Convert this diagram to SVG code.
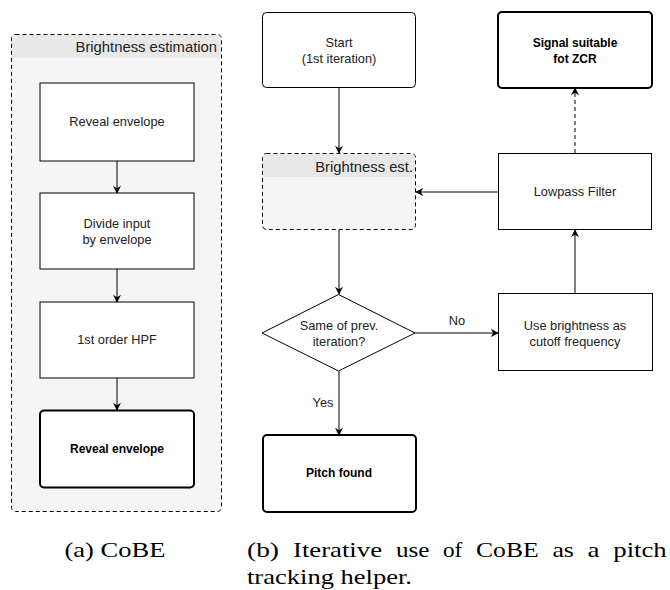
<svg xmlns="http://www.w3.org/2000/svg" width="670" height="590" viewBox="0 0 670 590">
<style>
.t{font-family:"Liberation Sans",Arial,sans-serif;font-size:12.8px;fill:#222;text-anchor:middle}
.b{font-weight:bold;font-size:12px;fill:#000}
.h{font-family:"Liberation Sans",Arial,sans-serif;font-size:14.8px;fill:#222;text-anchor:end}
.box{fill:#fff;stroke:#000;stroke-width:1}
.bold{fill:#fff;stroke:#000;stroke-width:2}
.cont{fill:#f5f5f5;stroke:#000;stroke-width:1;stroke-dasharray:4 3}
.hdr{fill:#e8e8e8}
.c{stroke:#000;stroke-width:1;fill:none}
.cap{font-family:"Liberation Serif","Times New Roman",serif;font-size:21.5px;fill:#000}
</style>
<defs>
<marker id="a" viewBox="0 0 10 10" refX="9" refY="5" markerWidth="8" markerHeight="8" markerUnits="userSpaceOnUse" orient="auto">
<path d="M0,0 L10,5 L0,10 L3,5 Z" fill="#000"/>
</marker>
</defs>

<g id="cobe">
<rect class="cont" x="11.5" y="34.5" width="210" height="477" rx="4"/>
<path class="hdr" d="M12,58 V38.5 Q12,35 16,35 H217 Q221,35 221,38.5 V58 Z"/>
<text class="h" x="217" y="52">Brightness estimation</text>
</g>
<g id="reveal1">
<rect class="box" x="40" y="83" width="154" height="78"/>
<text class="t" x="117" y="126">Reveal envelope</text>
</g>
<g id="divide">
<rect class="box" x="40" y="193" width="154" height="76"/>
<text class="t" x="117" y="228">Divide input</text>
<text class="t" x="117" y="244">by envelope</text>
</g>
<g id="hpf">
<rect class="box" x="40" y="302" width="154" height="76"/>
<text class="t" x="117" y="344">1st order HPF</text>
</g>
<g id="reveal2">
<rect class="bold" x="40" y="410.5" width="154" height="77" rx="4"/>
<text class="t b" x="117" y="453">Reveal envelope</text>
</g>

<g id="start">
<rect class="box" x="262.5" y="12.5" width="153" height="75" rx="4" stroke="#333"/>
<text class="t" x="339" y="47">Start</text>
<text class="t" x="339" y="63">(1st iteration)</text>
</g>
<g id="best">
<rect class="cont" x="262.5" y="153.5" width="153" height="76" rx="4" stroke="#333"/>
<path class="hdr" d="M263,177 V157.5 Q263,154 267,154 H411 Q415,154 415,157.5 V177 Z"/>
<text class="h" x="413" y="172">Brightness est.</text>
</g>
<g id="same">
<polygon class="box" points="338.5,294.5 415,333 338.5,371 262,333"/>
<text class="t" x="339" y="330">Same of prev.</text>
<text class="t" x="339" y="346">iteration?</text>
</g>
<g id="pitch">
<rect class="bold" x="263" y="435" width="153" height="77" rx="4"/>
<text class="t b" x="339" y="477">Pitch found</text>
</g>
<g id="signal">
<rect class="bold" x="498" y="12" width="154" height="76" rx="4"/>
<text class="t b" x="575" y="47">Signal suitable</text>
<text class="t b" x="575" y="63">fot ZCR</text>
</g>
<g id="lowpass">
<rect class="box" x="498.5" y="153.5" width="153" height="76"/>
<text class="t" x="575" y="196">Lowpass Filter</text>
</g>
<g id="usebright">
<rect class="box" x="498.5" y="293.5" width="154" height="77"/>
<text class="t" x="575" y="330">Use brightness as</text>
<text class="t" x="575" y="346">cutoff frequency</text>
</g>

<g id="connectors">
<line class="c" x1="117" y1="161" x2="117" y2="193" marker-end="url(#a)"/>
<line class="c" x1="117" y1="269" x2="117" y2="302" marker-end="url(#a)"/>
<line class="c" x1="117" y1="378" x2="117" y2="410" marker-end="url(#a)"/>
<line class="c" x1="339" y1="88" x2="339" y2="153" marker-end="url(#a)"/>
<line class="c" x1="339" y1="230" x2="339" y2="294" marker-end="url(#a)"/>
<line class="c" x1="415" y1="333" x2="498" y2="333" marker-end="url(#a)"/>
<line class="c" x1="339" y1="371" x2="339" y2="435" marker-end="url(#a)"/>
<line class="c" x1="575" y1="293" x2="575" y2="230" marker-end="url(#a)"/>
<line class="c" x1="498" y1="192" x2="416" y2="192" marker-end="url(#a)"/>
<line class="c" x1="575" y1="153" x2="575" y2="88" stroke-dasharray="4 3" marker-end="url(#a)"/>
<text class="t" x="457" y="325">No</text>
<text class="t" x="323" y="407">Yes</text>
</g>

<g id="captions">
<text class="cap" x="64.5" y="557" textLength="101" lengthAdjust="spacingAndGlyphs">(a) CoBE</text>
<text class="cap" x="247" y="557" textLength="32" lengthAdjust="spacingAndGlyphs">(b)</text>
<text class="cap" x="293" y="557" textLength="89" lengthAdjust="spacingAndGlyphs">Iterative</text>
<text class="cap" x="396" y="557" textLength="33.5" lengthAdjust="spacingAndGlyphs">use</text>
<text class="cap" x="443" y="557" textLength="19.3" lengthAdjust="spacingAndGlyphs">of</text>
<text class="cap" x="476" y="557" textLength="62.7" lengthAdjust="spacingAndGlyphs">CoBE</text>
<text class="cap" x="552.4" y="557" textLength="21.5" lengthAdjust="spacingAndGlyphs">as</text>
<text class="cap" x="587.6" y="557" textLength="12" lengthAdjust="spacingAndGlyphs">a</text>
<text class="cap" x="613.3" y="557" textLength="53.4" lengthAdjust="spacingAndGlyphs">pitch</text>
<text class="cap" x="247" y="584" textLength="165" lengthAdjust="spacingAndGlyphs">tracking helper.</text>
</g>
</svg>
